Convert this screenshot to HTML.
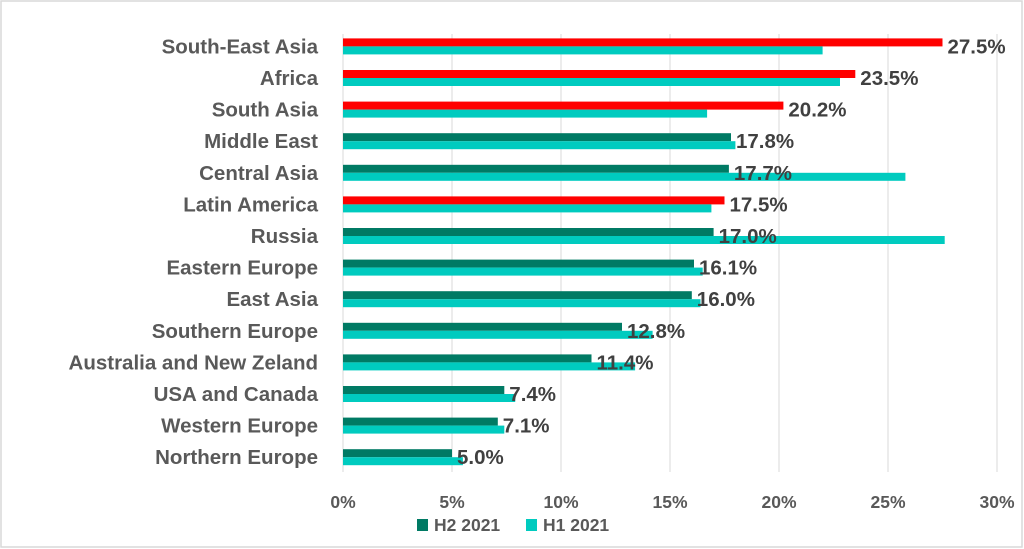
<!DOCTYPE html>
<html><head><meta charset="utf-8"><style>
html,body{margin:0;padding:0;background:#fff;}
svg{display:block;font-family:"Liberation Sans",sans-serif;}
</style></head><body>
<svg width="1024" height="549" viewBox="0 0 1024 549" xmlns="http://www.w3.org/2000/svg">
<rect x="1" y="1" width="1021" height="546" fill="#fff" stroke="#d9d9d9" stroke-width="1.5"/>
<g stroke="#d9d9d9" stroke-width="1">
<line x1="452" y1="34" x2="452" y2="472"/><line x1="561" y1="34" x2="561" y2="472"/>
<line x1="670" y1="34" x2="670" y2="472"/><line x1="779" y1="34" x2="779" y2="472"/>
<line x1="888" y1="34" x2="888" y2="472"/><line x1="997" y1="34" x2="997" y2="472"/>
<line x1="343" y1="34" x2="343" y2="472"/>
</g>
<g>
<rect x="343" y="38.4" width="599.5" height="8" fill="#FF0000"/><rect x="343" y="46.4" width="479.6" height="8" fill="#00CBBF"/>
<rect x="343" y="70" width="512.3" height="8" fill="#FF0000"/><rect x="343" y="78" width="497" height="8" fill="#00CBBF"/>
<rect x="343" y="101.6" width="440.4" height="8" fill="#FF0000"/><rect x="343" y="109.6" width="364.1" height="8" fill="#00CBBF"/>
<rect x="343" y="133.2" width="388" height="8" fill="#007A64"/><rect x="343" y="141.2" width="392.4" height="8" fill="#00CBBF"/>
<rect x="343" y="164.8" width="385.9" height="8" fill="#007A64"/><rect x="343" y="172.8" width="562.4" height="8" fill="#00CBBF"/>
<rect x="343" y="196.4" width="381.5" height="8" fill="#FF0000"/><rect x="343" y="204.4" width="368.4" height="8" fill="#00CBBF"/>
<rect x="343" y="228" width="370.6" height="8" fill="#007A64"/><rect x="343" y="236" width="601.7" height="8" fill="#00CBBF"/>
<rect x="343" y="259.6" width="351" height="8" fill="#007A64"/><rect x="343" y="267.6" width="359.7" height="8" fill="#00CBBF"/>
<rect x="343" y="291.2" width="348.8" height="8" fill="#007A64"/><rect x="343" y="299.2" width="357.5" height="8" fill="#00CBBF"/>
<rect x="343" y="322.8" width="279" height="8" fill="#007A64"/><rect x="343" y="330.8" width="309.6" height="8" fill="#00CBBF"/>
<rect x="343" y="354.4" width="248.5" height="8" fill="#007A64"/><rect x="343" y="362.4" width="292.1" height="8" fill="#00CBBF"/>
<rect x="343" y="386" width="161.3" height="8" fill="#007A64"/><rect x="343" y="394" width="172.2" height="8" fill="#00CBBF"/>
<rect x="343" y="417.6" width="154.8" height="8" fill="#007A64"/><rect x="343" y="425.6" width="161.3" height="8" fill="#00CBBF"/>
<rect x="343" y="449.2" width="109" height="8" fill="#007A64"/><rect x="343" y="457.2" width="119.9" height="8" fill="#00CBBF"/>
</g>
<g font-size="20.5" font-weight="bold" fill="#595959" text-anchor="end">
<text x="318" y="53.4">South-East Asia</text>
<text x="318" y="85">Africa</text>
<text x="318" y="116.6">South Asia</text>
<text x="318" y="148.2">Middle East</text>
<text x="318" y="179.8">Central Asia</text>
<text x="318" y="211.4">Latin America</text>
<text x="318" y="243">Russia</text>
<text x="318" y="274.6">Eastern Europe</text>
<text x="318" y="306.2">East Asia</text>
<text x="318" y="337.8">Southern Europe</text>
<text x="318" y="369.4">Australia and New Zeland</text>
<text x="318" y="401">USA and Canada</text>
<text x="318" y="432.6">Western Europe</text>
<text x="318" y="464.2">Northern Europe</text>
</g>
<g font-size="20.5" font-weight="bold" fill="#404040">
<text x="947.5" y="53.4">27.5%</text>
<text x="860.3" y="85">23.5%</text>
<text x="788.4" y="116.6">20.2%</text>
<text x="736" y="148.2">17.8%</text>
<text x="733.9" y="179.8">17.7%</text>
<text x="729.5" y="211.4">17.5%</text>
<text x="718.6" y="243">17.0%</text>
<text x="699" y="274.6">16.1%</text>
<text x="696.8" y="306.2">16.0%</text>
<text x="627" y="337.8">12.8%</text>
<text x="596.5" y="369.4">11.4%</text>
<text x="509.3" y="401">7.4%</text>
<text x="502.8" y="432.6">7.1%</text>
<text x="457" y="464.2">5.0%</text>
</g>
<g font-size="17.5" font-weight="bold" fill="#595959" text-anchor="middle">
<text x="343" y="508">0%</text><text x="452" y="508">5%</text><text x="561" y="508">10%</text>
<text x="670" y="508">15%</text><text x="779" y="508">20%</text><text x="888" y="508">25%</text><text x="997" y="508">30%</text>
</g>
<rect x="417" y="519" width="11" height="12" fill="#007A64"/>
<text x="434" y="531" font-size="17.5" font-weight="bold" fill="#595959">H2 2021</text>
<rect x="526" y="519" width="11" height="12" fill="#00CBBF"/>
<text x="543" y="531" font-size="17.5" font-weight="bold" fill="#595959">H1 2021</text>
</svg>
</body></html>
